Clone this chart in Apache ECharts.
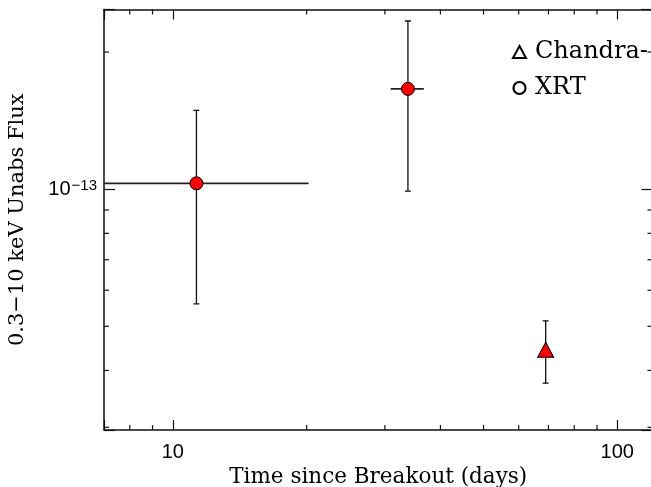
<!DOCTYPE html>
<html><head><meta charset="utf-8">
<script src="https://cdn.jsdelivr.net/npm/echarts@6/dist/echarts.min.js"></script>
<style>html,body{margin:0;padding:0;background:#fff}#c{width:651px;height:487px}</style>
</head><body><div id="c"></div>
<script>
// ---- data ----
const xrtTime      = [11.3, 33.8];
const xrtFlux      = [1.03e-13, 1.66e-13];
const xrtTimeLo    = [2.4, 30.9];
const xrtTimeHi    = [20.2, 36.7];
const xrtFluxLo    = [5.6e-14, 9.9e-14];
const xrtFluxHi    = [1.49e-13, 2.34e-13];
const chandraTime   = [69];
const chandraFlux   = [4.44e-14];
const chandraFluxLo = [3.75e-14];
const chandraFluxHi = [5.14e-14];
const xMinorTicks = [8, 9, 20, 30, 40, 50, 60, 70, 80, 90];
const yMinorTicks = [3e-14, 4e-14, 5e-14, 6e-14, 7e-14, 8e-14, 9e-14, 2e-13];
const xRange = [7, 120];
const yRange = [2.96e-14, 2.48e-13];
const seriesNames = ['Chandra-', 'XRT'];
const xTitle = 'Time since Breakout (days)';
const yTitle = '0.3\u221210 keV Unabs Flux';

const serif = 'DejaVu Serif';
const sans = 'Liberation Sans';
const ink = '#111';

function isDecade(v){ const e = Math.log10(v); return Math.abs(e - Math.round(e)) < 1e-6; }

function errRender(params, api){
  const x = api.value(0), y = api.value(1);
  const xl = api.value(2), xh = api.value(3), yl = api.value(4), yh = api.value(5);
  const ch = [];
  const st = {stroke: ink, lineWidth: 1.3};
  if (xl !== xh) {
    const a = api.coord([xl, y]), b = api.coord([xh, y]);
    ch.push({type:'line', shape:{x1:a[0], y1:a[1], x2:b[0], y2:b[1]}, style:{stroke:'#222', lineWidth:1.6}});
  }
  const lo = api.coord([x, yl]), hi = api.coord([x, yh]);
  ch.push({type:'line', shape:{x1:lo[0], y1:lo[1], x2:hi[0], y2:hi[1]}, style:st});
  ch.push({type:'line', shape:{x1:lo[0]-3, y1:lo[1], x2:lo[0]+3, y2:lo[1]}, style:st});
  ch.push({type:'line', shape:{x1:hi[0]-3, y1:hi[1], x2:hi[0]+3, y2:hi[1]}, style:st});
  return {type:'group', children: ch};
}

function tickRender(isX){
  return function(params, api){
    const cs = params.coordSys;
    const p = api.coord([api.value(0), api.value(1)]);
    const st = {stroke: ink, lineWidth: 1.2};
    if (isX) {
      return {type:'group', children:[
        {type:'line', shape:{x1:p[0], y1:cs.y+cs.height, x2:p[0], y2:cs.y+cs.height-5}, style:st},
        {type:'line', shape:{x1:p[0], y1:cs.y, x2:p[0], y2:cs.y+5}, style:st}
      ]};
    }
    return {type:'group', children:[
      {type:'line', shape:{x1:cs.x, y1:p[1], x2:cs.x+5, y2:p[1]}, style:st},
      {type:'line', shape:{x1:cs.x+cs.width, y1:p[1], x2:cs.x+cs.width-5, y2:p[1]}, style:st}
    ]};
  };
}

const axisLine = {show:true, lineStyle:{color:ink, width:1.5}};
const majorTick = {show:true, inside:true, length:10, lineStyle:{color:ink, width:1.2}};

const chart = echarts.init(document.getElementById('c'), null, {renderer:'canvas'});
chart.setOption({
  animation: false,
  backgroundColor: '#fff',
  grid: {left:104, top:9.5, right:-1.5, bottom:57, containLabel:false, outerBoundsMode:'none'},
  legend: {
    orient:'vertical', left:512, top:40, padding:0, itemGap:12,
    itemWidth:13, itemHeight:12, selectedMode:false,
    textStyle:{fontFamily:serif, fontSize:24, color:'#000', padding:[0,0,0,4]},
    data:[
      {name:seriesNames[0], icon:'triangle', itemStyle:{color:'rgba(0,0,0,0)', borderColor:'#000', borderWidth:2}},
      {name:seriesNames[1], icon:'circle', itemStyle:{color:'rgba(0,0,0,0)', borderColor:'#000', borderWidth:2.2}}
    ]
  },
  xAxis: [
    {type:'log', logBase:10, min:xRange[0], max:xRange[1], position:'bottom',
     axisLine, axisTick:majorTick, splitLine:{show:false}, minorTick:{show:false},
     axisLabel:{margin:12, fontFamily:sans, fontSize:20, color:'#000',
       formatter: v => isDecade(v) ? String(Math.round(v)) : ''},
     name:xTitle, nameLocation:'middle', nameGap:34,
     nameTextStyle:{fontFamily:serif, fontSize:21.5, color:'#000'}},
    {type:'log', logBase:10, min:xRange[0], max:xRange[1], position:'top',
     axisLine, axisTick:majorTick, splitLine:{show:false}, axisLabel:{show:false}}
  ],
  yAxis: [
    {type:'log', logBase:10, min:yRange[0], max:yRange[1], position:'left',
     axisLine, axisTick:Object.assign({}, majorTick, {length:11}), splitLine:{show:false},
     axisLabel:{margin:7, fontFamily:sans, fontSize:20, color:'#000',
       formatter: v => { if (!isDecade(v)) return ''; const r = Math.round(Math.log10(v)); return '10{sup|' + (r < 0 ? '\u2212' : '') + Math.abs(r) + '}'; },
       rich:{sup:{fontFamily:sans, fontSize:15, verticalAlign:'top', padding:[0,0,6,1]}}},
     name:yTitle, nameLocation:'middle', nameGap:76,
     nameTextStyle:{fontFamily:serif, fontSize:21, color:'#000'}},
    {type:'log', logBase:10, min:yRange[0], max:yRange[1], position:'right',
     axisLine, axisTick:Object.assign({}, majorTick, {length:11}), splitLine:{show:false}, axisLabel:{show:false}}
  ],
  series: [
    {type:'custom', name:'xMinor', renderItem:tickRender(true), silent:true, z:1,
     data: xMinorTicks.map(v => [v, 1e-13])},
    {type:'custom', name:'yMinor', renderItem:tickRender(false), silent:true, z:1,
     data: yMinorTicks.map(v => [10, v])},
    {type:'custom', name:'xrtErr', renderItem:errRender, clip:true, silent:true, z:2,
     encode:{x:[0,2,3], y:[1,4,5]},
     data: xrtTime.map((t,i) => [t, xrtFlux[i], xrtTimeLo[i], xrtTimeHi[i], xrtFluxLo[i], xrtFluxHi[i]])},
    {type:'custom', name:'chandraErr', renderItem:errRender, clip:true, silent:true, z:2,
     encode:{x:[0,2,3], y:[1,4,5]},
     data: chandraTime.map((t,i) => [t, chandraFlux[i], t, t, chandraFluxLo[i], chandraFluxHi[i]])},
    {type:'scatter', name:seriesNames[0], symbol:'triangle', symbolSize:[16,15], z:5,
     itemStyle:{color:'#ff0000', borderColor:'#000', borderWidth:1, opacity:1},
     data: chandraTime.map((t,i) => [t, chandraFlux[i]])},
    {type:'scatter', name:seriesNames[1], symbol:'circle', symbolSize:13, z:5,
     itemStyle:{color:'#ff0000', borderColor:'#000', borderWidth:1, opacity:1},
     data: xrtTime.map((t,i) => [t, xrtFlux[i]])}
  ]
});
</script>
</body></html>
